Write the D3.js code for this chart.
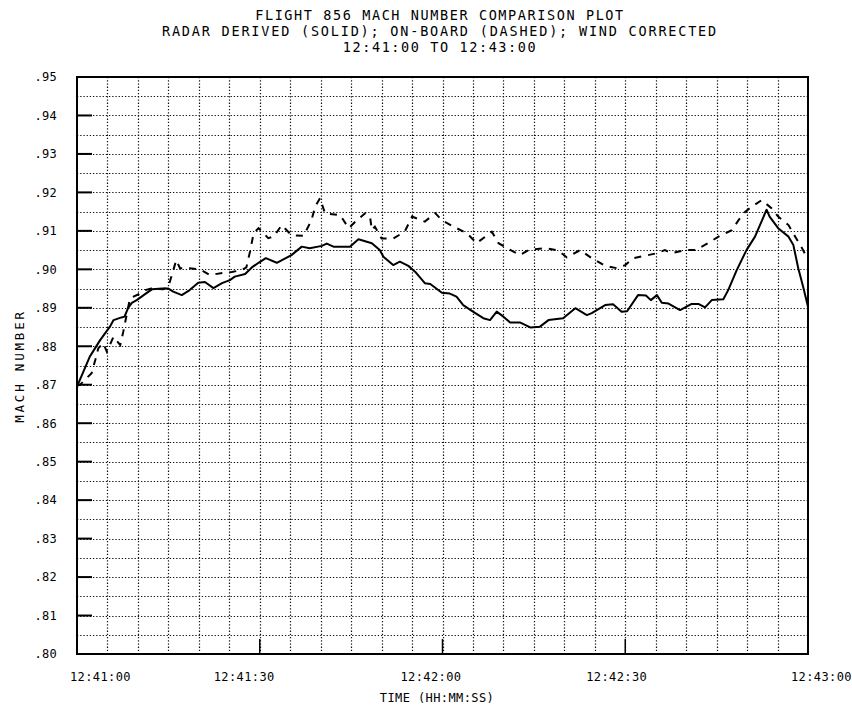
<!DOCTYPE html>
<html>
<head>
<meta charset="utf-8">
<script src="https://cdn.jsdelivr.net/npm/d3@7"></script>
<style>
  body { margin: 0; background: #fff; }
  svg { display: block; }
  text { font-family: "DejaVu Sans Mono", monospace; fill: #000; }
</style>
</head>
<body>
<svg id="chart" width="852" height="707"></svg>
<script>
// ---- data ----
const titleLines = [
  "FLIGHT 856 MACH NUMBER COMPARISON PLOT",
  "RADAR DERIVED (SOLID); ON-BOARD (DASHED); WIND CORRECTED",
  "12:41:00 TO 12:43:00"
];
const xAxisTitle = "TIME (HH:MM:SS)";
const yAxisTitle = "MACH NUMBER";
// seconds after 12:41:00
const xTickValues = [0, 30, 60, 90, 120];
const xTickLabels = ["12:41:00", "12:41:30", "12:42:00", "12:42:30", "12:43:00"];
const yTickValues = [0.80, 0.81, 0.82, 0.83, 0.84, 0.85, 0.86, 0.87, 0.88, 0.89, 0.90, 0.91, 0.92, 0.93, 0.94, 0.95];
const yTickLabels = [".80", ".81", ".82", ".83", ".84", ".85", ".86", ".87", ".88", ".89", ".90", ".91", ".92", ".93", ".94", ".95"];

// radar derived (solid): [seconds, mach]
const radarSeries = [
  [0,.8695],[2.1,.8773],[3.8,.8816],[5.4,.8851],[6,.8868],[7.3,.8875],[7.8,.8877],[8.4,.890],[9,.8913],[9.8,.892],
  [11.4,.8938],[12.3,.8948],[14,.895],[15,.895],[15.8,.8942],[17.2,.8933],[18.5,.8946],[19.9,.8965],[21,.8967],[22.4,.8951],
  [23.8,.8964],[25.1,.8972],[25.9,.8981],[27.6,.8988],[28.7,.9005],[29.8,.9017],[31,.9029],[32.8,.9017],[35.2,.9037],[36.9,.9059],
  [38.2,.9055],[40.2,.9061],[41,.9067],[42.1,.9059],[44.8,.9059],[46.2,.9078],[48.4,.9068],[49.7,.905],[50.3,.9033],[51.9,.9011],
  [53,.902],[54.4,.9009],[55.5,.8994],[57.1,.8964],[58,.8962],[59.9,.8939],[61.2,.8937],[62.3,.8929],[63.4,.8907],[65,.889],
  [66.7,.8873],[67.8,.8868],[68.9,.889],[70,.8877],[71.1,.8862],[72.7,.8862],[74.4,.8849],[76,.8851],[77.4,.8868],[79.8,.8873],
  [81.8,.8899],[83.7,.8881],[84.5,.8886],[86.7,.8907],[88,.8909],[89.4,.889],[90.3,.8891],[92.1,.8933],[93.4,.8932],[94.2,.892],
  [95.2,.8933],[96,.8913],[97.1,.8911],[99,.8894],[100.9,.891],[102,.891],[103.1,.8901],[104.2,.892],[106.1,.8922],[106.9,.8946],
  [108.3,.8998],[109.9,.905],[111.3,.9085],[113.2,.9155],[113.7,.9137],[115.1,.9107],[116.8,.9085],[117.6,.9063],[118.4,.9003],
  [119.2,.8955],[120,.8903]
];

// on-board (dashed): [seconds, mach]
const onboardSeries = [
  [0,.8697],[0.5,.870],[2.4,.873],[3,.8764],[3.5,.8795],[4.3,.8808],[4.9,.8786],[6,.8825],[7.1,.8803],[7.6,.8838],
  [8.7,.8925],[10.5,.8938],[11.2,.8946],[12.2,.895],[14.2,.8948],[15,.8955],[16.3,.9024],[16.9,.9003],[18.5,.9003],[20.2,.900],
  [21.8,.8985],[24,.8991],[25.4,.8993],[27,.8998],[27.8,.9005],[28.4,.9046],[29,.9094],[29.8,.9107],[31.4,.9081],[32.3,.9085],
  [33.6,.9115],[35.2,.9089],[37.2,.9087],[38.5,.9128],[39.1,.9163],[39.9,.9185],[40.7,.9146],[41.5,.9144],[43.2,.9141],[44.6,.9107],
  [45.7,.9124],[47.3,.9146],[48.1,.9137],[48.4,.9102],[48.9,.9111],[50,.908],[51.9,.908],[53.8,.9098],[55,.9137],[57.1,.9124],
  [58.8,.9146],[59.9,.9128],[61.8,.9111],[64,.9094],[65.6,.9068],[68.1,.9098],[69.2,.9068],[70.8,.9053],[72.7,.9037],[74.1,.905],
  [76.8,.9055],[79,.9049],[80.4,.9031],[82.6,.905],[84.5,.9029],[85,.9025],[86.7,.9009],[88.6,.9003],[90,.9011],[91.3,.9029],
  [93.2,.9035],[95.2,.9042],[96.5,.905],[97.6,.9042],[99.8,.905],[101.5,.905],[103.6,.9068],[105.3,.9085],[107.5,.9102],[108.6,.9128],
  [109.7,.915],[110.8,.9163],[112.4,.918],[114,.9159],[115.1,.9137],[116.8,.9115],[117.9,.9085],[119.2,.905],[120,.9024]
];

// ---- layout ----
const plot = { left: 77, right: 808, top: 77, bottom: 654 };
const svg = d3.select("#chart");

const x = d3.scaleLinear().domain([0, 120]).range([plot.left, plot.right]);
const y = d3.scaleLinear().domain([0.80, 0.95]).range([plot.bottom, plot.top]);

// titles
const titleY = [20, 36, 52];
svg.selectAll("text.title").data(titleLines).join("text")
  .attr("class", "title")
  .attr("x", 440).attr("y", (d, i) => titleY[i])
  .attr("text-anchor", "middle")
  .attr("font-size", 13.5)
  .attr("letter-spacing", (d, i) => i === 1 ? 1.8 : 1.6)
  .text(d => d);

// grid
const gridY = d3.range(0.805, 0.95, 0.005);
const gridX = d3.range(5, 120, 5);
const grid = svg.append("g").attr("stroke", "#111").attr("stroke-width", 1.2).attr("stroke-dasharray", "1.3,1.9");
grid.selectAll("line.h").data(gridY).join("line")
  .attr("x1", plot.left).attr("x2", plot.right)
  .attr("y1", d => Math.round(y(d)) + 0.5).attr("y2", d => Math.round(y(d)) + 0.5);
grid.selectAll("line.v").data(gridX).join("line")
  .attr("y1", plot.top).attr("y2", plot.bottom)
  .attr("x1", d => Math.round(x(d)) + 0.5).attr("x2", d => Math.round(x(d)) + 0.5);

// y axis
const yAxis = d3.axisLeft(y).tickValues(yTickValues)
  .tickFormat((d, i) => yTickLabels[i]).tickSize(0).tickPadding(20);
const gy = svg.append("g").attr("transform", `translate(${plot.left},0)`).call(yAxis);
gy.select(".domain").remove();
gy.selectAll("text").attr("font-size", 12).attr("letter-spacing", 0.3).attr("font-family", "DejaVu Sans Mono");
// inner y tick marks
svg.append("g").selectAll("line").data(yTickValues.slice(1, -1)).join("line")
  .attr("x1", plot.left).attr("x2", plot.left + 15)
  .attr("y1", d => y(d)).attr("y2", d => y(d))
  .attr("stroke", "#000").attr("stroke-width", 2);

// x axis
const labelShift = [23, -16, -12, -9, 13];
const xAxis = d3.axisBottom(x).tickValues(xTickValues)
  .tickFormat((d, i) => xTickLabels[i]).tickSize(0).tickPadding(18);
const gx = svg.append("g").attr("transform", `translate(0,${plot.bottom})`).call(xAxis);
gx.select(".domain").remove();
gx.selectAll("text").attr("font-size", 12).attr("letter-spacing", 0.4)
  .attr("font-family", "DejaVu Sans Mono")
  .attr("dx", (d, i) => labelShift[i]);
svg.append("g").selectAll("line").data(xTickValues.slice(1, -1)).join("line")
  .attr("x1", d => x(d)).attr("x2", d => x(d))
  .attr("y1", plot.bottom).attr("y2", plot.bottom - 15)
  .attr("stroke", "#000").attr("stroke-width", 1.5);

// axis titles
svg.append("text").attr("x", 437).attr("y", 702).attr("text-anchor", "middle")
  .attr("font-size", 12).attr("letter-spacing", 0.4).text(xAxisTitle);
svg.append("text").attr("transform", "translate(24,366) rotate(-90)")
  .attr("text-anchor", "middle").attr("font-size", 12.5).attr("letter-spacing", 2.8).text(yAxisTitle);

// frame
svg.append("rect").attr("x", plot.left).attr("y", plot.top)
  .attr("width", plot.right - plot.left).attr("height", plot.bottom - plot.top)
  .attr("fill", "none").attr("stroke", "#000").attr("stroke-width", 2);

// lines
const line = d3.line().x(d => x(d[0])).y(d => y(d[1]));
svg.append("path").datum(onboardSeries).attr("d", line)
  .attr("fill", "none").attr("stroke", "#000").attr("stroke-width", 2)
  .attr("stroke-dasharray", "7,7");
svg.append("path").datum(radarSeries).attr("d", line)
  .attr("fill", "none").attr("stroke", "#000").attr("stroke-width", 2)
  .attr("stroke-linejoin", "round");
</script>
</body>
</html>
